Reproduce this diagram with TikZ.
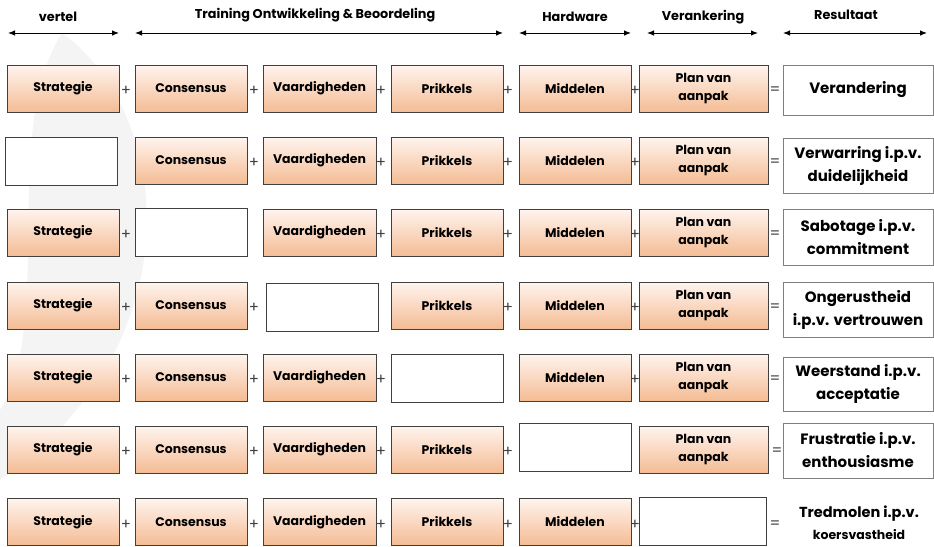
\documentclass[tikz,border=0pt]{standalone}
\usepackage{fontspec}
\setmainfont{Poppins}
\usetikzlibrary{arrows.meta}
\definecolor{boxtop}{HTML}{FFF4EE}
\definecolor{boxbot}{HTML}{F4BC94}
\definecolor{boxline}{HTML}{404040}
\definecolor{resline}{HTML}{7F7F7F}
\definecolor{wm}{HTML}{F4F4F4}
\tikzset{
  ob/.style={draw=boxline, line width=0.9pt, top color=boxtop, bottom color=boxbot,
    minimum width=112pt, minimum height=47pt, inner sep=0pt, align=center,
    font=\bfseries\fontsize{12.5}{18}\selectfont},
  wide/.style={minimum width=129pt},
  eb/.style={draw=boxline, line width=0.9pt, fill=white, minimum width=112pt,
    minimum height=48pt, inner sep=0pt},
  rb/.style={draw=resline, line width=0.9pt, fill=white, minimum width=150pt,
    inner sep=0pt, align=center, font=\bfseries\fontsize{15}{23}\selectfont},
  rt/.style={align=center, inner sep=0pt, font=\bfseries\fontsize{14.5}{23}\selectfont},
  op/.style={text=boxline, inner sep=0pt, font=\fontsize{15}{15}\selectfont},
  hd/.style={inner sep=0pt, font=\bfseries\fontsize{12.8}{14}\selectfont},
  harr/.style={{Latex[length=7pt,width=5.5pt]}-{Latex[length=7pt,width=5.5pt]}, line width=1pt},
}
\begin{document}
\begin{tikzpicture}[x=1pt,y=-1pt]
\useasboundingbox (0,0) rectangle (934,546);
% watermark
\fill[wm] (62,33) .. controls (170,110) and (200,340) .. (0,480) -- (0,410)
  .. controls (55,320) and (0,130) .. (62,33) -- cycle;
% headers
\node[hd] (h1) at (58,17) {vertel};
\node[hd] (h2) at (315,15) {Training Ontwikkeling \& Beoordeling};
\node[hd] (h3) at (575,17) {Hardware};
\node[hd] (h4) at (703,17) {Verankering};
\node[hd] (h5) at (846,15) {Resultaat};
\coordinate (a1l) at (8,33); \coordinate (a1r) at (119,33);
\coordinate (a2l) at (135,33); \coordinate (a2r) at (503,33);
\coordinate (a3l) at (519,33); \coordinate (a3r) at (631,33);
\coordinate (a4l) at (647,33); \coordinate (a4r) at (758,33);
\coordinate (a5l) at (783,33); \coordinate (a5r) at (927,33);
\draw[harr] (a1l) -- (a1r);
\draw[harr] (a2l) -- (a2r);
\draw[harr] (a3l) -- (a3r);
\draw[harr] (a4l) -- (a4r);
\draw[harr] (a5l) -- (a5r);
% row 1
\node[ob] (r1a) at (63,88.5) {Strategie};
\node[ob] (r1b) at (191,88.5) {Consensus};
\node[ob,minimum width=113pt] (r1c) at (319.5,88.5) {Vaardigheden};
\node[ob] (r1d) at (447,88.5) {Prikkels};
\node[ob] (r1e) at (575,88.5) {Middelen};
\node[op] (r1p5) at (635,91) {+};
\node[ob,wide] (r1f) at (703.5,88.5) {Plan van\\aanpak};
\node[rb,minimum height=50pt] (r1r) at (858,90) {Verandering};
\node[op] (r1p1) at (126,91) {+};
\node[op] (r1p2) at (254,91) {+};
\node[op] (r1p3) at (381,91) {+};
\node[op] (r1p4) at (508,91) {+};
\node[op] (r1eq) at (775,91) {=};
% row 2
\node[eb] (r2a) at (61,161) {};
\node[ob] (r2b) at (191,160.5) {Consensus};
\node[ob,minimum width=113pt] (r2c) at (319.5,160.5) {Vaardigheden};
\node[ob] (r2d) at (447,160.5) {Prikkels};
\node[ob] (r2e) at (575,160.5) {Middelen};
\node[op] (r2p5) at (635,163) {+};
\node[ob,wide] (r2f) at (703.5,160.5) {Plan van\\aanpak};
\node[rb,minimum height=55pt] (r2r) at (858,165.5) {Verwarring i.p.v.\\duidelijkheid};
\node[op] (r2p2) at (254,163) {+};
\node[op] (r2p3) at (381,163) {+};
\node[op] (r2p4) at (508,163) {+};
\node[op] (r2eq) at (775,163) {=};
% row 3
\node[ob] (r3a) at (63,232.5) {Strategie};
\node[eb] (r3b) at (191,232.5) {};
\node[ob,minimum width=113pt] (r3c) at (319.5,232.5) {Vaardigheden};
\node[ob] (r3d) at (447,232.5) {Prikkels};
\node[ob] (r3e) at (575,232.5) {Middelen};
\node[op] (r3p5) at (635,235) {+};
\node[ob,wide] (r3f) at (703.5,232.5) {Plan van\\aanpak};
\node[rb,minimum height=56pt] (r3r) at (858,237) {Sabotage i.p.v.\\commitment};
\node[op] (r3p1) at (126,235) {+};
\node[op] (r3p3) at (381,235) {+};
\node[op] (r3p4) at (508,235) {+};
\node[op] (r3eq) at (775,235) {=};
% row 4
\node[ob] (r4a) at (63,305.5) {Strategie};
\node[ob] (r4b) at (191,305.5) {Consensus};
\node[eb] (r4c) at (322,307) {};
\node[ob] (r4d) at (447,305.5) {Prikkels};
\node[ob] (r4e) at (575,305.5) {Middelen};
\node[op] (r4p5) at (635,308) {+};
\node[ob,wide] (r4f) at (703.5,305.5) {Plan van\\aanpak};
\node[rb,minimum height=55pt] (r4r) at (858,309.5) {Ongerustheid\\i.p.v. vertrouwen};
\node[op] (r4p1) at (126,308) {+};
\node[op] (r4p2) at (254,308) {+};
\node[op] (r4p4) at (508,308) {+};
\node[op] (r4eq) at (775,308) {=};
% row 5
\node[ob] (r5a) at (63,377.5) {Strategie};
\node[ob] (r5b) at (191,377.5) {Consensus};
\node[ob,minimum width=113pt] (r5c) at (319.5,377.5) {Vaardigheden};
\node[eb] (r5d) at (447,378.5) {};
\node[ob] (r5e) at (575,377.5) {Middelen};
\node[op] (r5p5) at (635,380) {+};
\node[ob,wide] (r5f) at (703.5,377.5) {Plan van\\aanpak};
\node[rb,minimum height=54pt] (r5r) at (858,384) {Weerstand i.p.v.\\acceptatie};
\node[op] (r5p1) at (126,380) {+};
\node[op] (r5p2) at (254,380) {+};
\node[op] (r5p3) at (381,380) {+};
\node[op] (r5eq) at (775,380) {=};
% row 6
\node[ob] (r6a) at (63,449.5) {Strategie};
\node[ob] (r6b) at (191,449.5) {Consensus};
\node[ob,minimum width=113pt] (r6c) at (319.5,449.5) {Vaardigheden};
\node[ob] (r6d) at (447,449.5) {Prikkels};
\node[eb] (r6e) at (575,447.5) {};
\node[ob,wide] (r6f) at (703.5,449.5) {Plan van\\aanpak};
\node[rb,minimum height=55pt] (r6r) at (858,450.5) {Frustratie i.p.v.\\enthousiasme};
\node[op] (r6p1) at (126,452) {+};
\node[op] (r6p2) at (254,452) {+};
\node[op] (r6p3) at (381,452) {+};
\node[op] (r6p4) at (508,452) {+};
\node[op] (r6eq) at (777,452) {=};
% row 7
\node[ob] (r7a) at (63,522) {Strategie};
\node[ob] (r7b) at (191,522) {Consensus};
\node[ob,minimum width=113pt] (r7c) at (319.5,522) {Vaardigheden};
\node[ob] (r7d) at (447,522) {Prikkels};
\node[ob] (r7e) at (575,522) {Middelen};
\node[op] (r7p5) at (635,525) {+};
\node[eb,minimum width=127pt] (r7f) at (702.5,521.5) {};
\node[rt] (r7r) at (859,523) {Tredmolen i.p.v.\\[-1pt]{\fontsize{12.5}{14}\selectfont koersvastheid}};
\node[op] (r7p1) at (126,525) {+};
\node[op] (r7p2) at (254,525) {+};
\node[op] (r7p3) at (381,525) {+};
\node[op] (r7p4) at (508,525) {+};
\node[op] (r7eq) at (775,525) {=};
\end{tikzpicture}
\end{document}
